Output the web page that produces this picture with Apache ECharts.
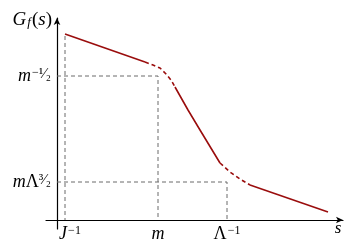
<!DOCTYPE html>
<html><head><meta charset="utf-8">
<script src="https://cdn.jsdelivr.net/npm/echarts@6/dist/echarts.min.js"></script>
<style>html,body{margin:0;padding:0;background:#fff}#c{width:354px;height:244px}</style>
</head><body><div id="c"></div>
<script>
// curve pieces (x, G_f) in arbitrary chart units
const curveSolid1 = [[8,186],[88,158]];
const curveDash1 = [[88,158],[96,155],[103,152],[109,146],[114,140],[118,133]];
const curveSolid2 = [[118,133],[131,110],[143,90],[163,57]];
const curveDash2 = [[163,57],[173,48],[183,41],[193,35]];
const curveSolid3 = [[193,35],[271,8]];
// guide lines
const guideJ = [[8,184],[8,0]];
const guideM = [[0,144],[101,144],[101,0]];
const guideL = [[0,38],[170,38],[170,0]];
// ticks
const xTicks = [8,101,170];
const xTickLabels = ['{b|J}{s|−1}','{b|m}','{u|Λ}{s|−1}'];
const yTicks = [38,144];
const yTickLabels = ['{b|m}{u|Λ}{f|³⁄₂}','{b|m}{s|−}{f|¹⁄₂}'];

const red = '#9a0d0d', grey = '#6a6a6a';
const serif = 'Liberation Serif';
const rich = {
  b:{fontFamily:serif,fontStyle:'italic',fontSize:18,color:'#000',verticalAlign:'bottom'},
  u:{fontFamily:serif,fontSize:18,color:'#000',verticalAlign:'bottom'},
  s:{fontFamily:serif,fontSize:12,color:'#000',verticalAlign:'top',padding:[0,0,0,1]},
  f:{fontFamily:serif,fontSize:15,color:'#000',verticalAlign:'top'},
  nb:{fontFamily:serif,fontStyle:'italic',fontSize:19,color:'#000',verticalAlign:'bottom'},
  nu:{fontFamily:serif,fontSize:19,color:'#000',verticalAlign:'bottom'},
  sb:{fontFamily:serif,fontStyle:'italic',fontSize:13,color:'#000',verticalAlign:'bottom',padding:[0,1,0,1]},
  p:{width:10}
};
function seg(data, dashed, color, width){
  return {type:'line',data:data,symbol:'none',silent:true,animation:false,
    lineStyle:{color:color,width:width,type:dashed?[4,3]:'solid'}};
}
const chart = echarts.init(document.getElementById('c'),null,{renderer:'canvas'});
chart.setOption({
  animation:false,
  grid:{left:46,right:11,top:18,bottom:15,containLabel:false,outerBoundsMode:'none'},
  xAxis:{type:'value',min:-11,max:286,
    axisLine:{onZero:true,symbol:['none','arrow'],symbolSize:[5,7],lineStyle:{color:'#000',width:1.2}},
    axisTick:{show:false},splitLine:{show:false},
    axisLabel:{customValues:xTicks,margin:-4,rich:rich,
      formatter:function(v){const i=xTicks.indexOf(v);return i===0?'{p|}'+xTickLabels[i]:xTickLabels[i];}},
    name:'s',nameLocation:'end',nameGap:0,
    nameTextStyle:{fontFamily:serif,fontStyle:'italic',fontSize:17,color:'#000',align:'center',verticalAlign:'top',padding:[0,10,0,0]}
  },
  yAxis:{type:'value',min:-9,max:202,
    axisLine:{onZero:true,symbol:['none','arrow'],symbolSize:[5,7],lineStyle:{color:'#000',width:1.2}},
    axisTick:{show:false},splitLine:{show:false},
    axisLabel:{customValues:yTicks,margin:-5,rich:rich,
      formatter:function(v){return yTickLabels[yTicks.indexOf(v)];}},
    name:'{nb|G}{sb|f}{nu|(}{nb|s}{nu|)}',nameLocation:'end',nameGap:0,
    nameTextStyle:{align:'right',verticalAlign:'middle',padding:[4,5,0,0],rich:rich}
  },
  series:[
    seg(guideJ,true,grey,1),
    seg(guideM,true,grey,1),
    seg(guideL,true,grey,1),
    seg(curveSolid1,false,red,1.6),
    seg(curveDash1,true,red,1.6),
    seg(curveSolid2,false,red,1.6),
    seg(curveDash2,true,red,1.6),
    seg(curveSolid3,false,red,1.6)
  ]
});
</script></body></html>
